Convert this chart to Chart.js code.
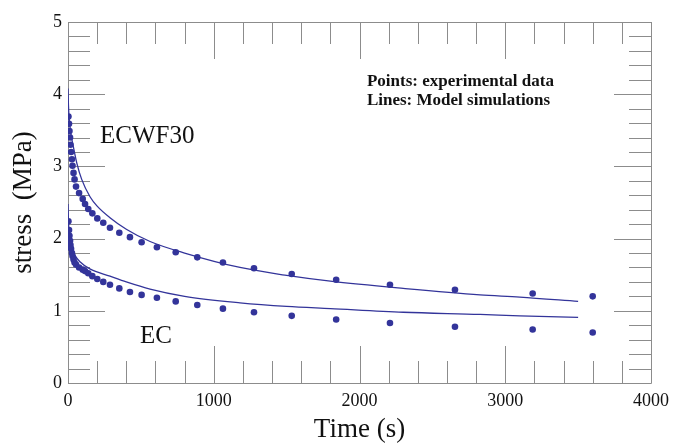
<!DOCTYPE html>
<html>
<head>
<meta charset="utf-8">
<script src="https://cdn.jsdelivr.net/npm/chart.js@4.4.0/dist/chart.umd.min.js"></script>
<style>
html, body { margin: 0; padding: 0; background: #ffffff; }
</style>
</head>
<body>
<canvas id="StressChart" width="673" height="443"></canvas>
<script>
// Experimental data (points) - time in s, stress in MPa
const timeExp = [3, 7, 10, 14, 17, 21, 27, 31, 38, 45, 55, 76, 101, 117, 139, 167, 201, 242, 288, 352, 425, 505, 610, 739, 887, 1063, 1276, 1535, 1840, 2209, 2655, 3188, 3600];
const stressEcwf30 = [3.69, 3.59, 3.49, 3.40, 3.30, 3.20, 3.10, 3.01, 2.91, 2.82, 2.72, 2.63, 2.55, 2.48, 2.41, 2.35, 2.28, 2.22, 2.15, 2.08, 2.02, 1.95, 1.88, 1.81, 1.74, 1.67, 1.59, 1.51, 1.43, 1.36, 1.29, 1.24, 1.20];
const stressEc = [2.24, 2.12, 2.04, 1.97, 1.91, 1.86, 1.80, 1.76, 1.71, 1.67, 1.64, 1.60, 1.57, 1.55, 1.52, 1.48, 1.44, 1.40, 1.36, 1.31, 1.26, 1.22, 1.18, 1.13, 1.08, 1.03, 0.98, 0.93, 0.88, 0.83, 0.78, 0.74, 0.70];

// Model simulations (lines)
const timeModelEcwf30 = [0, 3, 9, 20, 36, 60, 94, 151, 200, 288, 400, 563, 800, 1180, 1500, 1800, 2300, 2827, 3100, 3500];
const modelEcwf30 = [4.08, 3.85, 3.65, 3.45, 3.28, 3.05, 2.82, 2.58, 2.45, 2.29, 2.13, 1.96, 1.80, 1.60, 1.49, 1.41, 1.31, 1.22, 1.19, 1.13];
const timeModelEc = [0, 3, 10, 25, 50, 82, 150, 288, 400, 563, 800, 1180, 1500, 1800, 2300, 2827, 3100, 3500];
const modelEc = [2.48, 2.25, 2.05, 1.88, 1.76, 1.68, 1.58, 1.48, 1.40, 1.30, 1.20, 1.11, 1.06, 1.03, 0.98, 0.95, 0.93, 0.91];

// Axes
const xTicks = [0, 1000, 2000, 3000, 4000];
const yTicks = [0, 1, 2, 3, 4, 5];
const xMinorStep = 200;
const yMinorStep = 0.2;

// Annotations (data coordinates)
const curveLabels = [
    { text: 'ECWF30', x: 220, y: 3.42 },
    { text: 'EC', x: 494, y: 0.64 }
];
const noteLines = ['Points: experimental data', 'Lines: Model simulations'];
const notePos = { x: 2051, y: 4.17, dy: 0.26 };

const SERIF = '"Liberation Serif", "DejaVu Serif", serif';
const BLUE = '#33349a';

function toXY(xs, ys) {
    return xs.map((x, i) => ({ x: x, y: ys[i] }));
}

// Inward ticks on all four sides plus frame
const frameTicks = {
    id: 'frameTicks',
    beforeDatasetsDraw(chart) {
        const ctx = chart.ctx;
        const a = chart.chartArea;
        const xs = chart.scales.x;
        const ys = chart.scales.y;
        ctx.save();
        ctx.strokeStyle = '#8c8c8c';
        ctx.lineWidth = 1;
        ctx.beginPath();
        ctx.rect(Math.round(a.left) + 0.5, Math.round(a.top) + 0.5, Math.round(a.right - a.left), Math.round(a.bottom - a.top));
        ctx.stroke();

        const major = 37, minor = 22;
        ctx.beginPath();
        for (let v = xTicks[0]; v <= xTicks[xTicks.length - 1] + 1e-6; v += xMinorStep) {
            const isMajor = xTicks.some(t => Math.abs(t - v) < 1e-6);
            const px = Math.round(xs.getPixelForValue(v)) + 0.5;
            const len = isMajor ? major : minor;
            ctx.moveTo(px, a.bottom); ctx.lineTo(px, a.bottom - len);
            ctx.moveTo(px, a.top); ctx.lineTo(px, a.top + len);
        }
        for (let v = yTicks[0]; v <= yTicks[yTicks.length - 1] + 1e-6; v += yMinorStep) {
            const isMajor = yTicks.some(t => Math.abs(t - v) < 1e-6);
            const py = Math.round(ys.getPixelForValue(v)) + 0.5;
            const len = isMajor ? major : minor;
            ctx.moveTo(a.left, py); ctx.lineTo(a.left + len, py);
            ctx.moveTo(a.right, py); ctx.lineTo(a.right - len, py);
        }
        ctx.stroke();
        ctx.restore();
    },
    afterDatasetsDraw(chart) {
        const ctx = chart.ctx;
        const xs = chart.scales.x;
        const ys = chart.scales.y;
        ctx.save();
        ctx.fillStyle = '#111111';
        ctx.textBaseline = 'middle';
        ctx.textAlign = 'left';
        ctx.font = '25px ' + SERIF;
        curveLabels.forEach(l => {
            ctx.fillText(l.text, xs.getPixelForValue(l.x), ys.getPixelForValue(l.y));
        });
        ctx.font = 'bold 17px ' + SERIF;
        noteLines.forEach((t, i) => {
            ctx.fillText(t, xs.getPixelForValue(notePos.x), ys.getPixelForValue(notePos.y - i * notePos.dy));
        });
        ctx.restore();
    }
};

const ctx = document.getElementById('StressChart').getContext('2d');
const chart = new Chart(ctx, {
    type: 'scatter',
    data: {
        datasets: [
            {
                label: 'ECWF30 model',
                type: 'line',
                data: toXY(timeModelEcwf30, modelEcwf30),
                borderColor: BLUE,
                borderWidth: 1.3,
                pointRadius: 0,
                fill: false,
                cubicInterpolationMode: 'monotone'
            },
            {
                label: 'EC model',
                type: 'line',
                data: toXY(timeModelEc, modelEc),
                borderColor: BLUE,
                borderWidth: 1.3,
                pointRadius: 0,
                fill: false,
                cubicInterpolationMode: 'monotone'
            },
            {
                label: 'ECWF30',
                data: toXY(timeExp, stressEcwf30),
                backgroundColor: BLUE,
                borderColor: BLUE,
                pointRadius: 3.3,
                borderWidth: 0
            },
            {
                label: 'EC',
                data: toXY(timeExp, stressEc),
                backgroundColor: BLUE,
                borderColor: BLUE,
                pointRadius: 3.3,
                borderWidth: 0
            }
        ]
    },
    options: {
        responsive: false,
        animation: false,
        layout: { padding: { left: 0, right: 22, top: 22, bottom: 0 } },
        plugins: {
            legend: { display: false },
            tooltip: { enabled: false }
        },
        scales: {
            x: {
                type: 'linear',
                min: 0,
                max: 4000,
                afterFit: s => { s.height = 60; s.paddingLeft = 0; s.paddingRight = 0; },
                afterBuildTicks: s => { s.ticks = xTicks.map(v => ({ value: v })); },
                grid: { display: false, drawTicks: false },
                border: { display: false },
                ticks: {
                    padding: 7,
                    color: '#111111',
                    font: { family: SERIF, size: 18 },
                    maxRotation: 0,
                    callback: v => String(v)
                },
                title: {
                    display: true,
                    text: 'Time (s)',
                    color: '#111111',
                    font: { family: SERIF, size: 27, lineHeight: 1 },
                    padding: 0
                }
            },
            y: {
                type: 'linear',
                min: 0,
                max: 5,
                afterFit: s => { s.width = 68; s.paddingTop = 0; s.paddingBottom = 0; },
                afterBuildTicks: s => { s.ticks = yTicks.map(v => ({ value: v })); },
                grid: { display: false, drawTicks: false },
                border: { display: false },
                ticks: {
                    padding: 6,
                    color: '#111111',
                    font: { family: SERIF, size: 18 },
                    callback: v => String(v)
                },
                title: {
                    display: true,
                    text: 'stress  (MPa)',
                    color: '#111111',
                    font: { family: SERIF, size: 27 },
                    padding: { top: 8, bottom: 0 }
                }
            }
        }
    },
    plugins: [frameTicks]
});
</script>
</body>
</html>
